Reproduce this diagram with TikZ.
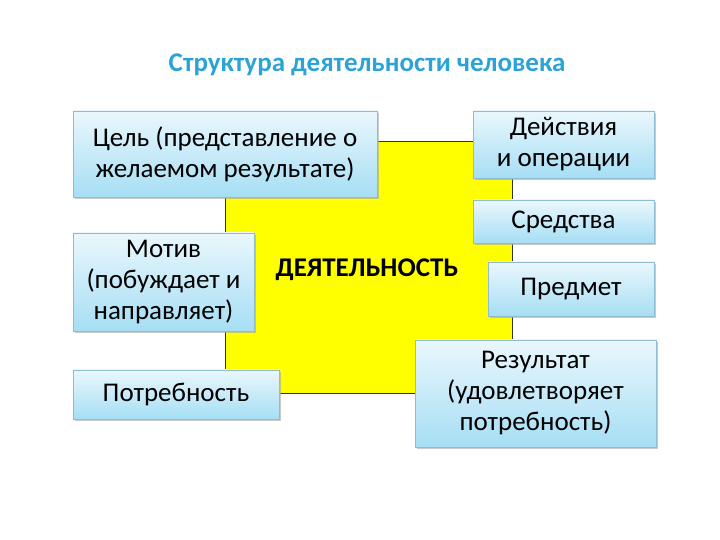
\documentclass[tikz,border=0pt]{standalone}
\usepackage{fontspec}
\setmainfont{Carlito}
\usetikzlibrary{shadows}
\definecolor{titleblue}{HTML}{2BA3D6}
\definecolor{boxtop}{HTML}{EAF7FD}
\definecolor{boxbot}{HTML}{A6DEF4}
\definecolor{boxline}{HTML}{8FBCD2}
\definecolor{actyellow}{HTML}{FFFF00}
\tikzset{
  infobox/.style={draw=boxline, line width=0.6pt, top color=boxtop, bottom color=boxbot,
    align=center, inner sep=2pt, font=\fontsize{27}{31}\selectfont,
    drop shadow={shadow xshift=2pt, shadow yshift=-2pt, fill=black!35, opacity=0.6}},
  actbox/.style={draw=black!80, line width=0.6pt, fill=actyellow}
}
\begin{document}
\begin{tikzpicture}[x=1pt,y=1pt]
\useasboundingbox (0,0) rectangle (720,540);
\node[actbox, minimum width=287pt, minimum height=252pt, anchor=center] (act) at (368.5,273) {};
\node[font=\fontsize{27}{31}\selectfont\bfseries] (actlabel) at (367,270) {ДЕЯТЕЛЬНОСТЬ};
\node[font=\fontsize{27}{31}\selectfont\bfseries, text=titleblue] (title) at (367,475) {Структура деятельности человека};
\node[infobox, minimum width=304pt, minimum height=86pt] (goal) at (225,386) {Цель (представление о\\желаемом результате)};
\node[infobox, minimum width=181pt, minimum height=67pt] (actions) at (563.5,395.5) {Действия\\и операции};
\node[infobox, minimum width=181pt, minimum height=43pt] (means) at (563.5,318.5) {Средства};
\node[infobox, minimum width=166pt, minimum height=54pt] (subject) at (571,251) {Предмет};
\node[infobox, minimum width=181pt, minimum height=98pt] (motive) at (163.5,258) {Мотив\\(побуждает и\\направляет)};
\node[infobox, minimum width=206pt, minimum height=49pt] (need) at (176,145.5) {Потребность};
\node[infobox, minimum width=241pt, minimum height=107pt] (result) at (535.5,146.5) {Результат\\(удовлетворяет\\потребность)};
\end{tikzpicture}
\end{document}
